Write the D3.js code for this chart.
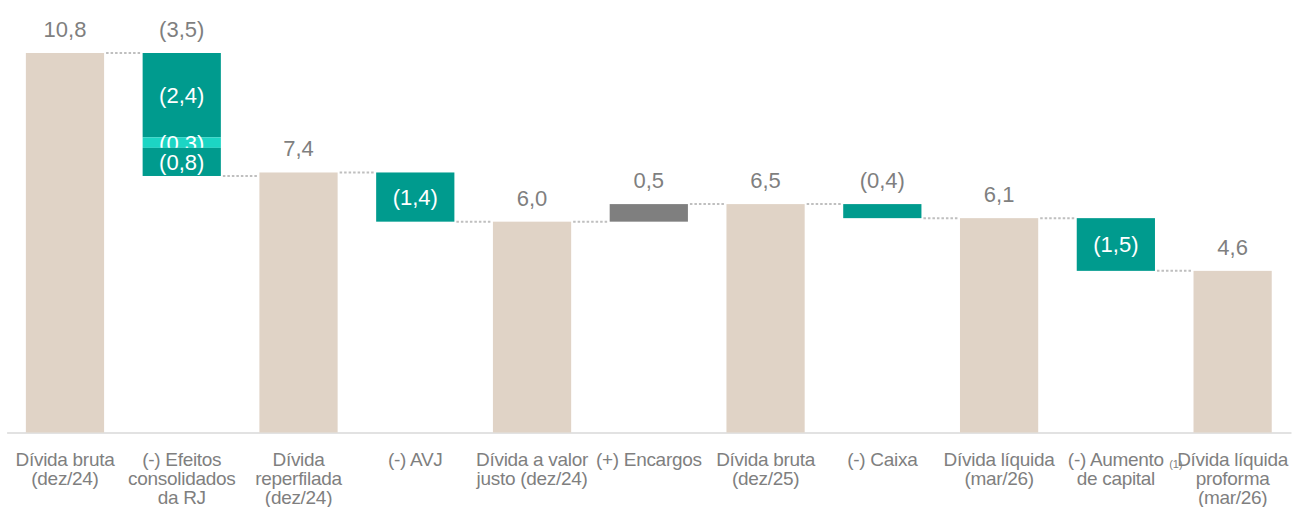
<!DOCTYPE html>
<html>
<head>
<meta charset="utf-8">
<script src="https://cdn.jsdelivr.net/npm/d3@7"></script>
<style>
	html, body { margin: 0; padding: 0; background: #fff; }
	svg { display: block; font-family: "Liberation Sans", Arial, sans-serif; }
</style>
</head>
<body>
<svg id="chart" width="1292" height="507"></svg>
<script>
// Categories (one array per label, split in lines)
const categories = [
	['Dívida bruta', '(dez/24)'],
	['(-) Efeitos', 'consolidados', 'da RJ'],
	['Dívida', 'reperfilada', '(dez/24)'],
	['(-) AVJ'],
	['Dívida a valor', 'justo (dez/24)'],
	['(+) Encargos'],
	['Dívida bruta', '(dez/25)'],
	['(-) Caixa'],
	['Dívida líquida', '(mar/26)'],
	['(-) Aumento', 'de capital'],
	['Dívida líquida', 'proforma', '(mar/26)'],
];
const values = [10.8, -3.5, 7.4, -1.4, 6.0, 0.5, 6.5, -0.4, 6.1, -1.5, 4.6];
const kinds = ['total', 'delta', 'total', 'delta', 'total', 'delta', 'total', 'delta', 'total', 'delta', 'total'];
// Breakdown of "(-) Efeitos consolidados da RJ", top to bottom
const rjParts = [-2.4, -0.3, -0.8];
const footnote = '(1)';

const baseY = 432.5;

const locale = d3.formatLocale({ decimal: ',', thousands: '.', grouping: [3], currency: ['R$', ''] });
const f1 = locale.format('.1f');
const fmt = v => (v < 0 ? `(${f1(-v)})` : f1(v));

const svg = d3.select('#chart');

const x = d3.scaleBand()
	.domain(d3.range(categories.length))
	.range([6.6, 1291])
	.paddingInner(0.33)
	.paddingOuter(0.165);

const y = d3.scaleLinear()
	.domain([0, 10.8])
	.range([baseY, 53]);

// Build bar spans
let level = 0;
const bars = values.map((v, i) => {
	let y0, y1;
	if (kinds[i] === 'total') {
		y0 = 0; y1 = v; level = v;
	} else {
		y0 = level; y1 = level + v; level = y1;
	}
	return { i, v, kind: kinds[i], from: y0, to: y1 };
});

const colors = {
	total: '#E0D3C6',
	neg: '#009B8E',
	pos: '#7F7F7F',
	rj: ['#009B8E', '#1CD5C4', '#009B8E'],
};

// Axis
const gAxis = svg.append('g')
	.attr('transform', `translate(0,${baseY})`)
	.call(d3.axisBottom(x).tickSize(0).tickSizeOuter(0).tickFormat(''));
gAxis.select('.domain').attr('stroke', '#D9D9D9').attr('stroke-width', 1.5);
gAxis.selectAll('.tick text').remove();
gAxis.selectAll('.tick').each(function (d) {
	const t = d3.select(this).append('text')
		.attr('text-anchor', 'middle')
		.attr('fill', '#7F7F7F')
		.attr('font-size', 19)
		.attr('letter-spacing', -0.3);
	categories[d].forEach((line, j) => {
		t.append('tspan').attr('x', 0).attr('y', 33 + j * 19.2).text(line);
	});
});
// footnote marker next to "(-) Aumento de capital"
svg.append('text')
	.attr('x', x(9) + x.bandwidth() / 2 + 60)
	.attr('y', 468)
	.attr('text-anchor', 'middle')
	.attr('fill', '#7F7F7F')
	.attr('font-size', 11)
	.text(footnote);

// Connectors
const gConn = svg.append('g');
bars.slice(0, -1).forEach(b => {
	const ly = y(b.to);
	gConn.append('line')
		.attr('x1', x(b.i) + x.bandwidth() + 2)
		.attr('x2', x(b.i + 1) - 1)
		.attr('y1', ly).attr('y2', ly)
		.attr('stroke', '#BFBFBF')
		.attr('stroke-width', 2)
		.attr('stroke-dasharray', '2.5 2');
});

// Bars
const gBars = svg.append('g');
bars.forEach(b => {
	if (b.i === 1) {
		let lv = b.from;
		rjParts.forEach((p, j) => {
			const top = y(lv);
			const bot = y(lv + p);
			gBars.append('rect')
				.attr('x', x(b.i)).attr('width', x.bandwidth())
				.attr('y', top).attr('height', bot - top)
				.attr('fill', colors.rj[j]);
			gBars.append('text')
				.attr('x', x(b.i) + x.bandwidth() / 2)
				.attr('y', (top + bot) / 2)
				.attr('dy', '0.36em')
				.attr('text-anchor', 'middle')
				.attr('fill', '#fff')
				.attr('font-size', 22)
				.text(fmt(p));
			lv += p;
		});
		return;
	}
	const top = y(Math.max(b.from, b.to));
	const bot = y(Math.min(b.from, b.to));
	let fill = colors.total;
	if (b.kind === 'delta') fill = b.v < 0 ? colors.neg : colors.pos;
	gBars.append('rect')
		.attr('x', x(b.i)).attr('width', x.bandwidth())
		.attr('y', top).attr('height', bot - top)
		.attr('fill', fill);
});

// Value labels
const gLabels = svg.append('g')
	.attr('text-anchor', 'middle')
	.attr('font-size', 22);
bars.forEach(b => {
	const top = y(Math.max(b.from, b.to));
	const bot = y(Math.min(b.from, b.to));
	const cx = x(b.i) + x.bandwidth() / 2;
	if (b.kind === 'delta' && b.i !== 1 && Math.abs(b.v) >= 1) {
		gLabels.append('text')
			.attr('x', cx).attr('y', (top + bot) / 2)
			.attr('dy', '0.36em')
			.attr('fill', '#fff')
			.text(fmt(b.v));
	} else {
		gLabels.append('text')
			.attr('x', cx).attr('y', top - 16)
			.attr('fill', '#7F7F7F')
			.text(fmt(b.v));
	}
});
</script>
</body>
</html>
